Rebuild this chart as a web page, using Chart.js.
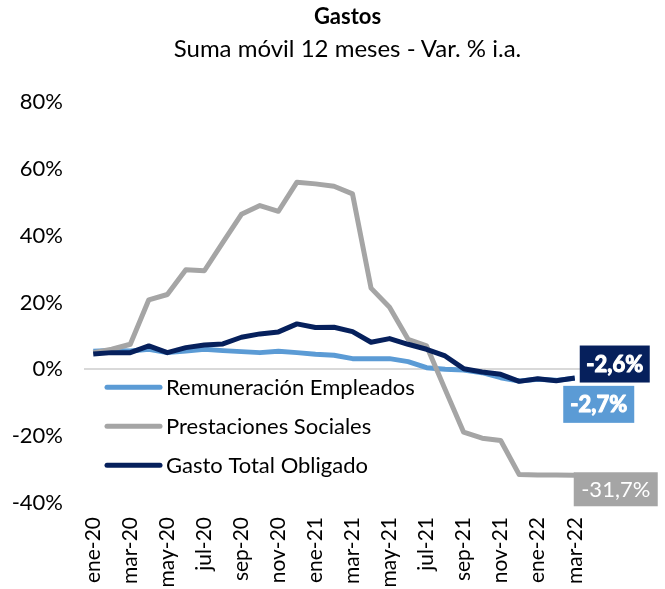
<!DOCTYPE html>
<html>
<head>
<meta charset="utf-8">
<script src="https://cdn.jsdelivr.net/npm/chart.js@4.4.0/dist/chart.umd.min.js"></script>
<style>
  html, body { margin: 0; padding: 0; background: #fff; }
  #wrap { position: relative; width: 665px; height: 589px; font-family: Lato, "Open Sans", sans-serif; }
  #title { position: absolute; left: 0; width: 695px; top: 2px; text-align: center; font-weight: bold; font-size: 22px; color: #000; }
  #subtitle { position: absolute; left: 0; width: 695px; top: 33px; text-align: center; font-size: 24px; color: #000; }
  canvas { position: absolute; left: 0; top: 0; }
</style>
</head>
<body>
<div id="wrap">
  <canvas id="myChart" width="665" height="589"></canvas>
  <div id="title">Gastos</div>
  <div id="subtitle">Suma móvil 12 meses - Var. % i.a.</div>
</div>
<script>
const months = ["ene-20", "feb-20", "mar-20", "abr-20", "may-20", "jun-20", "jul-20", "ago-20", "sep-20",
  "oct-20", "nov-20", "dic-20", "ene-21", "feb-21", "mar-21", "abr-21", "may-21", "jun-21", "jul-21",
  "ago-21", "sep-21", "oct-21", "nov-21", "dic-21", "ene-22", "feb-22", "mar-22"];

const remuneracion = [5.4, 5.6, 5.5, 6.0, 5.0, 5.5, 6.0, 5.6, 5.3, 5.0, 5.4, 5.0, 4.5, 4.2, 3.2, 3.2, 3.2,
  2.3, 0.5, 0.0, -0.2, -1.0, -2.5, -3.5, -3.0, -3.3, -2.7];
const prestaciones = [5.0, 6.0, 7.5, 20.8, 22.4, 29.8, 29.5, 38.0, 46.4, 49.0, 47.3, 56.0, 55.5, 54.8, 52.5,
  24.3, 18.6, 9.0, 7.0, -6.0, -18.8, -20.6, -21.3, -31.5, -31.6, -31.6, -31.7];
const gastoTotal = [4.6, 5.0, 5.0, 7.0, 5.0, 6.5, 7.3, 7.6, 9.6, 10.6, 11.2, 13.6, 12.5, 12.6, 11.3, 8.1,
  9.2, 7.5, 6.0, 4.0, 0.2, -0.8, -1.5, -3.6, -2.8, -3.4, -2.6];

const yTicks = [-40, -20, 0, 20, 40, 60, 80];
const endLabels = ["-2,7%", "-31,7%", "-2,6%"];

const FONT = 'Lato, "Open Sans", sans-serif';
const colLight = "#5B9BD5";
const colGray = "#A5A5A5";
const colNavy = "#06205C";

// legend drawn inside the plot + boxed labels at the end of each line
const extras = {
  id: "extras",
  afterDraw(chart) {
    const c = chart.ctx;
    const area = chart.chartArea;
    const y = chart.scales.y;
    const items = [
      { text: "Remuneración Empleados", color: colLight },
      { text: "Prestaciones Sociales", color: colGray },
      { text: "Gasto Total Obligado", color: colNavy },
    ];
    c.save();
    c.font = "22px " + FONT;
    c.textBaseline = "middle";
    c.textAlign = "left";
    const startY = y.getPixelForValue(0) + 18;
    items.forEach(function (it, i) {
      const ly = startY + i * 39;
      c.strokeStyle = it.color;
      c.lineWidth = 5;
      c.lineCap = "round";
      c.beginPath();
      c.moveTo(area.left + 23, ly);
      c.lineTo(area.left + 76, ly);
      c.stroke();
      c.fillStyle = "#000";
      c.fillText(it.text, area.left + 82, ly + 1);
    });

    // end labels
    const boxes = [
      { ds: 0, dx: 24, dy: 26, w: 71, h: 37, bg: colLight, bold: true },
      { ds: 1, dx: 41, dy: 14, w: 84, h: 34, bg: colGray, bold: false },
      { ds: 2, dx: 40, dy: -14, w: 70, h: 37, bg: colNavy, bold: true },
    ];
    boxes.forEach(function (b) {
      const meta = chart.getDatasetMeta(b.ds);
      const pt = meta.data[meta.data.length - 1];
      const cx = pt.x + b.dx;
      const cy = pt.y + b.dy;
      c.fillStyle = b.bg;
      c.fillRect(cx - b.w / 2, cy - b.h / 2, b.w, b.h);
      c.fillStyle = "#fff";
      c.strokeStyle = "#fff";
      c.textAlign = "center";
      c.font = (b.bold ? "bold " : "") + "22px " + FONT;
      c.fillText(endLabels[b.ds], cx, cy + 1);
      if (b.bold) {
        c.lineWidth = 1.1;
        c.lineJoin = "round";
        c.strokeText(endLabels[b.ds], cx, cy + 1);
      }
    });
    c.restore();
  },
};

const ctx = document.getElementById("myChart");
new Chart(ctx, {
  type: "line",
  data: {
    labels: months,
    datasets: [
      { label: "Remuneración Empleados", data: remuneracion, borderColor: colLight, borderWidth: 5, order: 2 },
      { label: "Prestaciones Sociales", data: prestaciones, borderColor: colGray, borderWidth: 5, order: 1 },
      { label: "Gasto Total Obligado", data: gastoTotal, borderColor: colNavy, borderWidth: 5, order: 0 },
    ],
  },
  options: {
    responsive: false,
    animation: false,
    layout: { padding: { top: 102, right: 81, left: 0, bottom: 0 } },
    elements: { point: { radius: 0 }, line: { tension: 0, borderJoinStyle: "round" } },
    plugins: { legend: { display: false }, tooltip: { enabled: false } },
    scales: {
      x: {
        offset: true,
        grid: { display: false },
        border: { display: false },
        afterFit(scale) { scale.height = 86; },
        ticks: {
          autoSkip: false,
          maxRotation: 90,
          minRotation: 90,
          padding: 6,
          color: "#000",
          font: { family: FONT, size: 21 },
          callback: function (val, i) { return i % 2 === 0 ? months[i] : ""; },
        },
      },
      y: {
        min: -40,
        max: 80,
        afterBuildTicks(scale) { scale.ticks = yTicks.map(function (v) { return { value: v }; }); },
        afterFit(scale) { scale.width = 84; },
        border: { display: false },
        grid: {
          drawTicks: false,
          color: function (c) { return c.tick && c.tick.value === 0 ? "#D9D9D9" : "rgba(0,0,0,0)"; },
          lineWidth: 2,
        },
        ticks: {
          padding: 21,
          color: "#000",
          font: { family: FONT, size: 22 },
          callback: function (v) { return v + "%"; },
        },
      },
    },
  },
  plugins: [extras],
});
</script>
</body>
</html>
